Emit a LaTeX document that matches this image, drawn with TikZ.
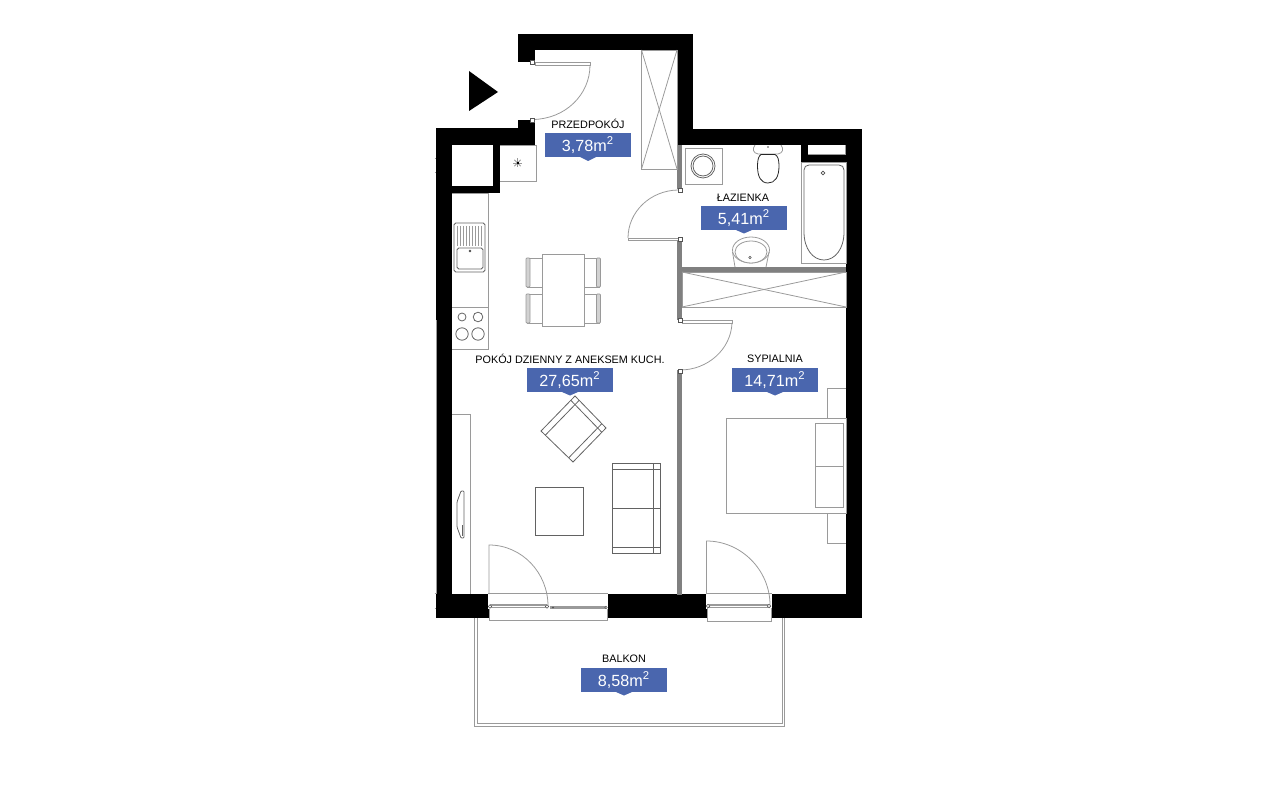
\documentclass[tikz,border=0pt]{standalone}
\usepackage{fontspec}
\setmainfont{Liberation Sans}
\usetikzlibrary{positioning, calc}
\definecolor{badgeblue}{HTML}{4A66AE}
\definecolor{partgray}{HTML}{808080}
\definecolor{linegray}{HTML}{8C8C8C}
\definecolor{fixgray}{HTML}{9A9A9A}
\newcommand{\roomfont}{\fontsize{6.15}{7}\selectfont}
\newcommand{\areafont}{\fontsize{9.2}{11}\selectfont}

\begin{document}
\begin{tikzpicture}[
  x=0.02cm, y=-0.02cm,
  wall/.style={fill=black},
  partition/.style={fill=partgray},
  fixture/.style={draw=fixgray, line width=0.45pt},
  furniture/.style={draw=linegray!70!black, line width=0.45pt},
  hole/.style={fill=white},
  hinge/.style={draw=linegray!60!black, fill=white, line width=0.35pt},
  room/.style={font=\roomfont, text=black, inner sep=0pt},
  area/.style={fill=badgeblue, text=white, font=\areafont, minimum width=1.72cm,
               minimum height=0.47cm, inner sep=0pt},
  tip/.style={fill=badgeblue},
]
  \useasboundingbox (0,0) rectangle (1280,800);

  % Outer walls
  \fill[wall] (518,34) rectangle (693,50);
  \fill[wall] (518,34) rectangle (535,62);
  \fill[wall] (677,34) rectangle (693,145);
  \fill[wall] (677,129) rectangle (862,145);
  \fill[wall] (846,129) rectangle (862,618);
  \fill[wall] (436,128) rectangle (535,145);
  \fill[wall] (518,120) rectangle (535,145);
  \fill[wall] (436,128) rectangle (452,618);
  \fill[wall] (436,594) rectangle (862,618);
  % Shaft
  \fill[wall] (493,145) rectangle (500,193);
  \fill[wall] (452,186) rectangle (500,193);
  % Stub above the bathtub
  \fill[wall] (801,145) rectangle (808,162);
  \fill[wall] (801,154) rectangle (846,162);
  % Ticks on the outer face
  \foreach \y in {158,172,593,608}
    \draw[fixture] (434.5,\y) -- (436,\y);
  \draw[fixture, line width=0.3pt] (435.8,320) -- (435.8,594);

  % Openings to the balcony
  \fill[hole] (488,594) rectangle (608,609);
  \fill[hole] (489,609) rectangle (607,618);
  \fill[hole] (706,594) rectangle (772,609);
  \fill[hole] (707,609) rectangle (771,618);

  % Partitions
  \fill[partition] (677,145) rectangle (682,189);
  \fill[partition] (677,239) rectangle (682,320);
  \fill[partition] (677,370) rectangle (682,595);
  \fill[partition] (682,267) rectangle (846,272);

  % Balcony
  \draw[fixture] (474,618) -- (474,726) -- (784,726) -- (784,618);
  \draw[fixture] (477,618) -- (477,723) -- (782,723) -- (782,618);

  % Balcony window, living room
  \draw[fixture] (488,593.5) -- (608,593.5);
  \fill[fixgray] (490,604) rectangle (547,608);
  \fill[white] (492,605.5) rectangle (546,606.5);
  \fill[fixgray] (550,606) rectangle (606,609);
  \draw[fixture] (489,609) -- (489,620) -- (607,620) -- (607,609);
  \draw[fixture] (489,594) -- (489,545) .. controls (522,545) and (548,573) .. (548,606);
  \draw[hinge] (490,606.5) circle[radius=1.8];
  \draw[hinge] (547,606.5) circle[radius=1.8];
  \draw[hinge] (606,607.5) circle[radius=1.2];
  \draw[hinge] (553,607.5) circle[radius=0.8];

  % Balcony window, bedroom
  \draw[fixture] (706,593.5) -- (772,593.5);
  \fill[fixgray] (708,604) rectangle (769,608);
  \fill[white] (710,605.5) rectangle (767,606.5);
  \draw[fixture] (707,608) -- (707,621) -- (771,621) -- (771,608);
  \draw[fixture] (706.5,594) -- (706.5,541) .. controls (741,541) and (770,570) .. (770,605);
  \draw[hinge] (708,606) circle[radius=1.8];
  \draw[hinge] (769,606) circle[radius=1.8];

  % Entrance door
  \draw[fixture, fill=white] (535,62) rectangle (590,65);
  \draw[fixture] (590,65) .. controls (590,95) and (565,119) .. (533,119.5);
  \draw[hinge] (530,60.5) rectangle (534,64.5);
  \draw[hinge] (530,118) rectangle (534,122);
  \fill[black] (469,71) -- (469,111) -- (498,92) -- cycle;

  % Bathroom door
  \draw[fixture, fill=white] (628,238) rectangle (678,240);
  \draw[fixture] (628,238) .. controls (628,212) and (650,190.5) .. (678,190);
  \draw[hinge] (678,188) rectangle (682,192);
  \draw[hinge] (678,237) rectangle (682,241);

  % Bedroom door
  \draw[fixture, fill=white] (682,320) rectangle (732,323);
  \draw[fixture] (732,323) .. controls (731,349) and (708,370) .. (680,370);
  \draw[hinge] (678,318) rectangle (682,322);
  \draw[hinge] (678,369) rectangle (682,373);

  % Hall wardrobe
  \draw[fixture] (641.5,50) rectangle (677,169);
  \draw[fixture] (641.5,50) -- (677,169);
  \draw[fixture] (677,50) -- (641.5,169);

  % Bedroom wardrobe
  \draw[fixture] (682,272) rectangle (846,307);
  \draw[fixture] (682,272) -- (846,307);
  \draw[fixture] (682,307) -- (846,272);

  % Kitchen
  \draw[fixture] (500,145) -- (536,145) -- (536,181) -- (500,181);
  \draw[fixture] (452,193) -- (488,193) -- (488,349) -- (452,349);
  \draw[fixture] (452,307) -- (488,307);
  \foreach \a in {0,45,...,315}
    \draw[fixture] (517.5,163) -- ++(\a:4.5);
  \fill[black] (516.5,162) rectangle (518.5,164);
  \draw[furniture, rounded corners=1pt] (454,223) rectangle (485,272);
  \draw[furniture, rounded corners=1pt] (457,248) rectangle (483,269);
  \foreach \x in {457,460,463,466,469,472,475,478,481}
    \draw[fixture] (\x,226) -- (\x,246);
  \fill[black!70] (470,251) circle[radius=1.3];
  \draw[furniture] (462,317) circle[radius=4];
  \draw[furniture] (478,317) circle[radius=4.8];
  \draw[furniture] (462,334) circle[radius=6.2];
  \draw[furniture] (478,334) circle[radius=6.2];

  % Dining table
  \draw[fixture] (542,254) rectangle (584,326);
  \foreach \y in {258,294} {
    \draw[fixture] (542,\y) -- (527,\y);
    \draw[fixture] (542,\y+29) -- (527,\y+29);
    \draw[fixture, fill=fixgray!45, rounded corners=0.5pt] (526,\y) rectangle (530,\y+29);
    \draw[fixture] (584,\y) -- (600,\y);
    \draw[fixture] (584,\y+29) -- (600,\y+29);
    \draw[fixture, fill=fixgray!45, rounded corners=0.5pt] (596.5,\y) rectangle (600.5,\y+29);
  }

  % Armchair
  \draw[furniture] (575,396) -- (606,428) -- (573,462) -- (541,431) -- cycle;
  \draw[furniture] (570.8,400.3) -- (601.8,432.3);
  \draw[furniture] (579.2,400.3) -- (545.2,435.3);
  \draw[furniture] (601.8,423.7) -- (568.8,457.7);

  % Coffee table and sofa
  \draw[furniture] (535,487) rectangle (583,535);
  \draw[furniture] (612,463) rectangle (660,553);
  \draw[furniture] (612,469) -- (660,469);
  \draw[furniture] (612,547) -- (660,547);
  \draw[furniture] (653,463) -- (653,553);
  \draw[furniture] (612,508) -- (660,508);

  % TV unit
  \draw[fixture] (452,414) -- (470,414) -- (470,594);
  \draw[furniture, rounded corners=0.5pt] (461,491) -- (464,491) -- (464,538) -- (461,538)
    -- (457,527) -- (457,502) -- cycle;
  \draw[furniture] (462,525) -- (462,536);

  % Bathroom
  \draw[fixture] (685,148) rectangle (722,184);
  \draw[furniture] (703,166) circle[radius=12];
  \draw[furniture] (703,166) circle[radius=10];
  \draw[fixture] (755,145) .. controls (752,149) and (753,153) .. (758,154)
    -- (778,154) .. controls (783,153) and (784,149) .. (781,145);
  \draw[black!85, line width=0.45pt] (761,154.5) -- (775,154.5)
    .. controls (778,156) and (779,160) .. (779,166)
    .. controls (779,177) and (775,183) .. (768,183)
    .. controls (761,183) and (757.5,177) .. (757.5,166)
    .. controls (757.5,160) and (758.5,156) .. (761,154.5);
  \fill[black!70] (768,147) circle[radius=0.9];
  \draw[fixture] (801,162) rectangle (846,263);
  \draw[furniture] (804,232) .. controls (804,249) and (813,260) .. (824,260)
    .. controls (835,260) and (844,249) .. (844,232) -- (844,170)
    .. controls (844,167) and (842,165) .. (839,165) -- (809,165)
    .. controls (806,165) and (804,167) .. (804,170) -- cycle;
  \draw[black!70, line width=0.4pt] (823,173) circle[radius=1.8];
  \draw[fixture] (735,267) -- (732.5,252);
  \draw[fixture] (766,267) -- (769,252);
  \draw[fixture] (751,250) ellipse[x radius=18.5, y radius=13];
  \draw[fixture, fill=white] (751,252) ellipse[x radius=16, y radius=11];
  \draw[black!70, line width=0.3pt] (750,257.5) circle[radius=1.2];

  % Wall stub clears
  \fill[white] (808,145) rectangle (845,154);
  \draw[fixture] (808,154) -- (845,154) -- (845,145);

  % Labels
  \node[room] (hall) at (588,124) {PRZEDPOKÓJ};
  \node[area] (hallarea) at (588,145) {3,78m\textsuperscript{2}};
  \fill[tip] (580,157) -- (596,157) -- (588,161) -- cycle;

  \node[room] (bath) at (743,197.5) {ŁAZIENKA};
  \node[area] (batharea) at (744,218) {5,41m\textsuperscript{2}};
  \fill[tip] (736,230) -- (752,230) -- (744,233.5) -- cycle;

  \node[room] (living) at (570,359) {POKÓJ DZIENNY Z ANEKSEM KUCH.};
  \node[area] (livingarea) at (570,380) {27,65m\textsuperscript{2}};
  \fill[tip] (562,392) -- (578,392) -- (570,395.5) -- cycle;

  \node[room] (bed) at (775,359) {SYPIALNIA};
  \node[area] (bedarea) at (775,380) {14,71m\textsuperscript{2}};
  \fill[tip] (767,392) -- (783,392) -- (775,395.5) -- cycle;

  \node[room] (balcony) at (624,659) {BALKON};
  \node[area] (balconyarea) at (624,680) {8,58m\textsuperscript{2}};
  \fill[tip] (616,692) -- (632,692) -- (624,695.5) -- cycle;

  % Bed
  \draw[fixture] (726,418) rectangle (846,513);
  \draw[fixture] (815,423) rectangle (843,507);
  \draw[fixture] (815,466) -- (843,466);
  \draw[fixture] (846,388) -- (827,388) -- (827,418);
  \draw[fixture] (827,513) -- (827,543) -- (846,543);
\end{tikzpicture}
\end{document}
